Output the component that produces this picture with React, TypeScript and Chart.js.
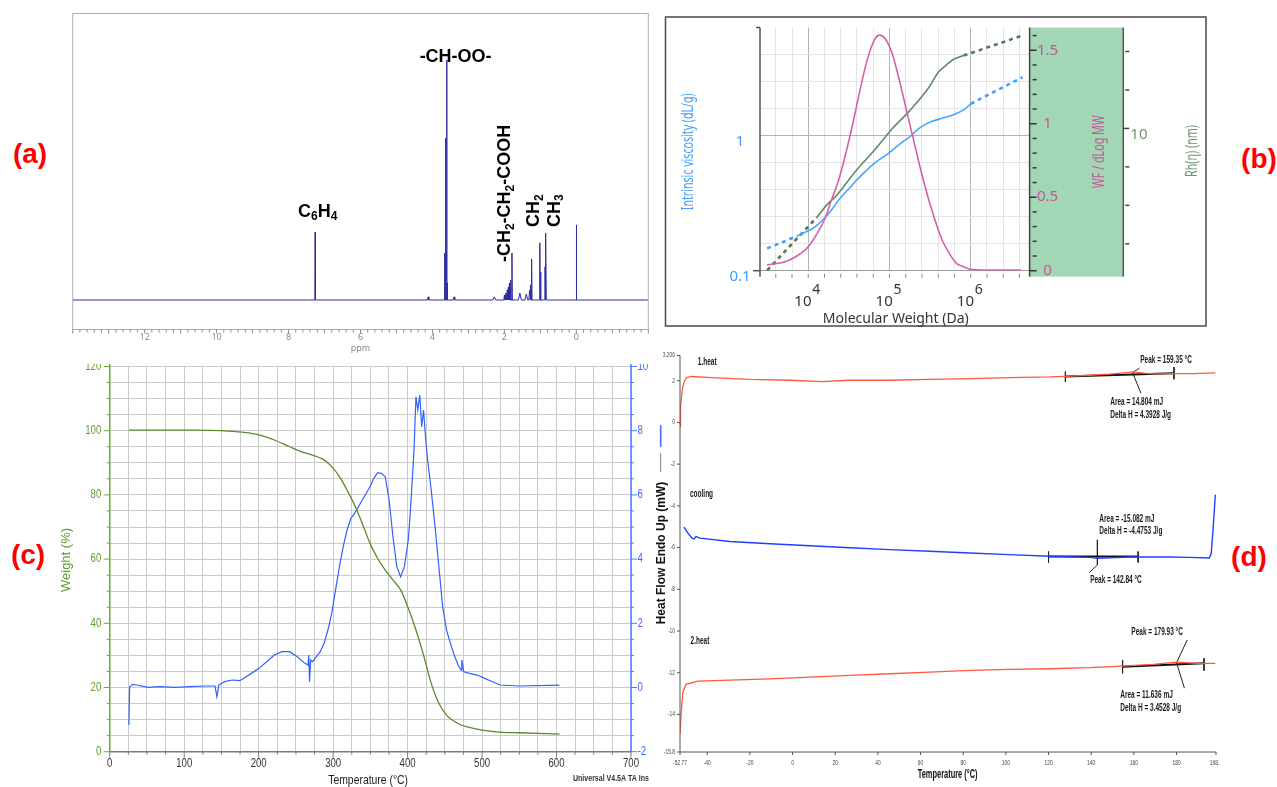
import React, { useEffect, useRef } from "react";
import { Chart, registerables } from "chart.js";

Chart.register(...registerables);

const SANS = '"Liberation Sans", Arial, sans-serif';
const UI = '"Noto Sans", "Open Sans", sans-serif';

/* ---------------- (a) 1H NMR spectrum ---------------- */
const nmrPeakPpm = [7.26, 4.12, 3.66, 3.635, 3.604, 3.585, 3.4, 2.28, 2.0, 1.96, 1.92, 1.89, 1.86, 1.83, 1.79, 1.57, 1.39, 1.3, 1.265, 1.24, 1.015, 0.99, 0.87, 0.845, 0.0];
const nmrPeakIntensity = [28.3, 1.3, 19.6, 67.5, 100, 7.1, 1.3, 1.3, 2.1, 2.9, 4.2, 5.4, 7.1, 8.3, 19.6, 2.9, 2.5, 4.2, 6.3, 17.1, 23.8, 11.7, 13.8, 27.9, 31.3];
const nmrPeakHalfWidth = [0.008, 0.02, 0.006, 0.006, 0.006, 0.006, 0.02, 0.04, 0.015, 0.015, 0.015, 0.015, 0.015, 0.012, 0.008, 0.04, 0.04, 0.02, 0.01, 0.008, 0.008, 0.006, 0.006, 0.008, 0.008];
const nmrAxisLabels = [12, 10, 8, 6, 4, 2, 0];

/* ---------------- (b) GPC triple detection ---------------- */
const wfLogMW = [3.494, 3.714, 3.846, 4.0, 4.11, 4.198, 4.286, 4.374, 4.462, 4.549, 4.637, 4.725, 4.813, 4.879, 4.945, 5.033, 5.121, 5.209, 5.297, 5.385, 5.473, 5.56, 5.648, 5.736, 5.824, 5.912, 6.0, 6.13, 6.615];
const wfValue = [0.039, 0.061, 0.095, 0.163, 0.254, 0.345, 0.481, 0.617, 0.798, 1.002, 1.229, 1.433, 1.569, 1.603, 1.58, 1.478, 1.297, 1.093, 0.889, 0.685, 0.503, 0.345, 0.209, 0.118, 0.05, 0.027, 0.009, 0.005, 0.005];
const ivLogMW = [3.868, 3.934, 4.022, 4.11, 4.198, 4.286, 4.374, 4.505, 4.637, 4.813, 4.989, 5.165, 5.253, 5.341, 5.429, 5.516, 5.648, 5.78, 5.912, 6.0];
const ivLogValue = [-0.743, -0.723, -0.699, -0.662, -0.612, -0.551, -0.477, -0.39, -0.304, -0.205, -0.131, -0.044, -0.007, 0.042, 0.079, 0.104, 0.128, 0.153, 0.19, 0.235];
const ivExtrapLowLogMW = [3.494, 3.868];
const ivExtrapLowValue = [-0.835, -0.743];
const ivExtrapHighLogMW = [6.0, 6.637];
const ivExtrapHighValue = [0.235, 0.432];
const rhLogMW = [4.11, 4.242, 4.33, 4.374, 4.593, 4.813, 5.033, 5.253, 5.473, 5.604, 5.692, 5.78, 5.912];
const rhLogValue = [0.539, 0.609, 0.643, 0.664, 0.782, 0.886, 0.998, 1.094, 1.206, 1.293, 1.327, 1.357, 1.379];
const rhExtrapLowLogMW = [3.494, 4.11];
const rhExtrapLowValue = [0.262, 0.539];
const rhExtrapHighLogMW = [5.912, 6.637];
const rhExtrapHighValue = [1.379, 1.483];
const mwDecades = [4, 5, 6];
const ivLabels = [0.1, 1];
const wfLabels = [0, 0.5, 1, 1.5];

/* ---------------- (c) TGA / DTG ---------------- */
const tgaTemp = [25.7, 118.2, 149.0, 169.6, 190.2, 200.4, 221.0, 241.6, 257.0, 272.4, 287.8, 298.1, 308.4, 318.7, 328.9, 339.2, 349.5, 359.8, 370.0, 380.3, 390.6, 400.9, 411.2, 421.4, 431.7, 442.0, 452.3, 467.7, 488.3, 519.1, 549.9, 603.9];
const tgaWeight = [100.2, 100.2, 100.0, 99.7, 99.2, 98.7, 97.1, 95.0, 93.5, 92.4, 90.9, 88.8, 85.7, 81.5, 76.8, 71.1, 64.9, 60.2, 56.6, 53.5, 50.4, 44.7, 37.9, 30.1, 21.3, 15.1, 11.4, 8.8, 7.3, 6.2, 5.9, 5.5];
const dtgTemp = [25.7, 26.7, 30.8, 36.0, 51.4, 66.8, 87.4, 107.9, 128.5, 141.3, 143.9, 146.5, 154.2, 164.5, 174.7, 179.9, 190.2, 200.4, 210.7, 221.0, 231.3, 241.6, 251.8, 262.1, 266.2, 267.3, 268.3, 269.8, 272.4, 277.5, 282.7, 287.8, 293.0, 298.1, 303.2, 308.4, 313.5, 318.7, 323.8, 328.9, 339.2, 349.5, 354.6, 359.8, 364.9, 370.0, 375.2, 380.3, 385.5, 390.6, 395.7, 400.9, 403.5, 406.0, 408.6, 411.2, 413.7, 416.3, 418.9, 421.4, 424.0, 426.6, 431.7, 436.9, 442.0, 447.1, 452.3, 457.4, 462.6, 467.7, 471.8, 472.8, 475.4, 483.1, 493.4, 503.7, 514.0, 524.2, 549.9, 603.9];
const dtgValue = [-1.169, 0.025, 0.098, 0.077, 0.004, 0.025, 0.004, 0.025, 0.046, 0.046, -0.287, 0.077, 0.181, 0.233, 0.212, 0.285, 0.44, 0.596, 0.804, 1.011, 1.115, 1.115, 0.96, 0.752, 0.7, 1.011, 0.181, 0.856, 0.804, 0.96, 1.115, 1.375, 1.79, 2.309, 3.036, 3.763, 4.386, 4.906, 5.269, 5.425, 5.84, 6.255, 6.515, 6.692, 6.671, 6.567, 5.84, 4.698, 3.763, 3.452, 3.763, 4.594, 5.425, 6.359, 7.398, 9.059, 8.644, 9.111, 8.125, 8.644, 7.813, 7.138, 6.152, 5.009, 3.763, 2.517, 1.79, 1.375, 1.011, 0.7, 0.544, 0.856, 0.492, 0.44, 0.388, 0.285, 0.181, 0.077, 0.046, 0.077];

/* ---------------- (d) DSC ---------------- */
const heat1Temp = [-52.77, -52.67, -52.34, -51.73, -50.8, -49.67, -47.33, -38.0, -20.0, -1.3, 13.7, 26.8, 45.5, 64.3, 83.0, 101.7, 120.4, 127.9, 139.2, 148.5, 154.0, 159.4, 165.0, 169.1, 178.5, 187.9, 198.2];
const heat1Flow = [-0.2, -0.04, 0.76, 1.56, 1.96, 2.15, 2.2, 2.15, 2.06, 2.02, 1.95, 2.02, 2.02, 2.06, 2.1, 2.15, 2.18, 2.21, 2.26, 2.31, 2.36, 2.42, 2.36, 2.33, 2.34, 2.34, 2.37];
const coolTemp = [-50.9, -49.02, -47.15, -46.2, -45.28, -43.4, -29.36, -10.63, 8.09, 26.82, 45.54, 64.27, 83.0, 101.7, 120.4, 139.2, 142.9, 157.9, 176.6, 186.0, 195.4, 196.3, 197.2, 198.2];
const coolFlow = [-5.02, -5.31, -5.55, -5.59, -5.47, -5.55, -5.71, -5.82, -5.91, -6.01, -6.1, -6.18, -6.26, -6.34, -6.42, -6.47, -6.52, -6.45, -6.45, -6.47, -6.5, -6.26, -4.99, -3.47];
const heat2Temp = [-52.77, -52.2, -51.46, -49.96, -44.35, -29.36, -10.63, 8.09, 26.82, 45.54, 64.27, 83.0, 101.7, 120.4, 139.2, 154.2, 169.1, 180.0, 189.7, 198.2];
const heat2Flow = [-14.95, -13.91, -12.96, -12.56, -12.4, -12.35, -12.29, -12.21, -12.13, -12.05, -11.97, -11.89, -11.84, -11.81, -11.76, -11.68, -11.6, -11.49, -11.55, -11.55];
const dscBaselines = [
  [127.9, 2.2, 178.8, 2.36],
  [120.0, -6.43, 162.0, -6.43],
  [154.7, -11.71, 192.9, -11.54],
];
const dscMarkers = [
  [127.9, 2.43, 127.9, 1.95],
  [178.8, 2.65, 178.8, 2.07],
  [159.4, 2.38, 162.6, 2.6],
  [159.4, 2.38, 163.3, 1.4],
  [120.0, -6.19, 120.0, -6.72],
  [162.0, -6.19, 162.0, -6.72],
  [142.9, -5.63, 142.9, -6.83],
  [142.9, -6.83, 139.1, -7.2],
  [154.7, -11.39, 154.7, -12.03],
  [192.9, -11.31, 192.9, -11.9],
  [180.0, -11.52, 185.0, -10.43],
  [180.0, -11.52, 183.7, -12.74],
];
const dscXTicks = [-52.77, -40, -20, 0, 20, 40, 60, 80, 100, 120, 140, 160, 180, 198.5];
const dscYTicks = [3.206, 2, 0, -2, -4, -6, -8, -10, -12, -14, -15.8];
const dscNotes: [string, number, number][] = [
  ["1.heat", -44.4, 2.87],
  ["Peak = 159.35 °C", 163.0, 2.96],
  ["Area = 14.804 mJ", 148.9, 0.98],
  ["Delta H = 4.3928 J/g", 148.9, 0.35],
  ["cooling", -48.1, -3.43],
  ["Area = -15.082 mJ", 143.8, -4.63],
  ["Delta H = -4.4753 J/g", 143.8, -5.24],
  ["Peak = 142.84 °C", 139.5, -7.56],
  ["2.heat", -47.8, -10.47],
  ["Peak = 179.93 °C", 158.8, -10.06],
  ["Area = 11.636 mJ", 153.6, -13.07],
  ["Delta H = 3.4528 J/g", 153.6, -13.68],
];

/* ---------------- helpers ---------------- */
function steps(from: number, to: number, step: number) {
  const out: number[] = [];
  const n = Math.round((to - from) / step);
  for (let i = 0; i <= n; i++) out.push(Math.round((from + i * step) * 1e6) / 1e6);
  return out;
}
const pts = (xs: number[], ys: number[]) => xs.map((v, i) => ({ x: v, y: ys[i] }));
function segPts(segs: number[][]) {
  const out: any[] = [];
  segs.forEach((s) => {
    out.push({ x: s[0], y: s[1] }, { x: s[2], y: s[3] }, { x: s[2], y: null });
  });
  return out;
}
function line(ctx: any, x1: number, y1: number, x2: number, y2: number, color: string, w = 1) {
  ctx.save();
  ctx.strokeStyle = color;
  ctx.lineWidth = w;
  ctx.beginPath();
  ctx.moveTo(x1, y1);
  ctx.lineTo(x2, y2);
  ctx.stroke();
  ctx.restore();
}
function drawText(ctx: any, s: string, x: number, y: number, o: any) {
  ctx.save();
  ctx.translate(x, y);
  if (o.rotate) ctx.rotate(o.rotate);
  if (o.sx) ctx.scale(o.sx, 1);
  ctx.font = o.font;
  ctx.fillStyle = o.color;
  ctx.textAlign = o.align || "center";
  ctx.textBaseline = o.baseline || "middle";
  if (o.maxWidth) ctx.fillText(s, 0, 0, o.maxWidth);
  else ctx.fillText(s, 0, 0);
  ctx.restore();
}
function drawRich(ctx: any, segs: [string, boolean][], x: number, y: number, rot: number) {
  const mainFont = `bold 18px ${SANS}`;
  const subFont = `bold 12px ${SANS}`;
  ctx.save();
  ctx.translate(x, y);
  ctx.rotate(rot);
  ctx.fillStyle = "#000";
  ctx.textBaseline = "middle";
  ctx.textAlign = "left";
  let total = 0;
  const widths = segs.map(([t, sub]) => {
    ctx.font = sub ? subFont : mainFont;
    const w = ctx.measureText(t).width;
    total += w;
    return w;
  });
  let cx = -total / 2;
  segs.forEach(([t, sub], i) => {
    ctx.font = sub ? subFont : mainFont;
    ctx.fillText(t, cx, sub ? 5 : 0);
    cx += widths[i];
  });
  ctx.restore();
}
function padFor(canvas: number[], area: number[]) {
  const [cl, ct, cw, ch] = canvas;
  const [L, T, R, B] = area;
  return { left: L - cl, top: T - ct, right: cl + cw - R, bottom: ct + ch - B };
}
const baseOptions = (padding: any) => ({
  responsive: false,
  animation: false,
  events: [],
  layout: { padding },
  plugins: { legend: { display: false }, tooltip: { enabled: false }, title: { display: false } },
  elements: { point: { radius: 0 }, line: { fill: false, tension: 0 } },
});
const gridScale = (min: number, max: number, ticks: number[], color: any, extra: any = {}) => ({
  type: "linear",
  min,
  max,
  afterBuildTicks: (s: any) => {
    s.ticks = ticks.map((v) => ({ value: v }));
  },
  ticks: { display: false },
  border: { display: false },
  grid: { color, drawTicks: false, lineWidth: 1 },
  ...extra,
});
const hiddenScale = (min: number, max: number, extra: any = {}) => ({ type: "linear", min, max, display: false, ...extra });

/* ---------------- panel geometry ---------------- */
const A_CANVAS = [60, 0, 600, 362];
const A_AREA = [72.7, 13.5, 648.3, 329.5];
const B_CANVAS = [662, 12, 548, 318];
const B_AREA = [760, 27.5, 1029.6, 270.7];
const C_CANVAS = [40, 364, 615, 423];
const C_AREA = [109.75, 366.5, 631, 751.7];
const D_CANVAS = [652, 340, 567, 447];
const D_AREA = [680, 355.5, 1216, 752];

/* ---------------- (a) config ---------------- */
function nmrSpectrum() {
  const order = nmrPeakPpm.map((_, i) => i).sort((a, b) => nmrPeakPpm[b] - nmrPeakPpm[a]);
  const out: any[] = [{ x: 14, y: 0 }];
  order.forEach((i) => {
    const p = nmrPeakPpm[i];
    const w = nmrPeakHalfWidth[i];
    out.push({ x: p + w, y: 0 }, { x: p, y: nmrPeakIntensity[i] }, { x: p - w, y: 0 });
  });
  out.push({ x: -2, y: 0 });
  return out;
}
const nmrLabelDefs: { segs: [string, boolean][]; ppm: number; h: number; rot: number }[] = [
  { segs: [["-CH-OO-", false]], ppm: 3.356, h: 101.25, rot: 0 },
  { segs: [["C", false], ["6", true], ["H", false], ["4", true]], ppm: 7.19, h: 36.7, rot: 0 },
  { segs: [["-CH", false], ["2", true], ["-CH", false], ["2", true], ["-COOH", false]], ppm: 1.972, h: 44.4, rot: -Math.PI / 2 },
  { segs: [["CH", false], ["2", true]], ppm: 1.163, h: 37.25, rot: -Math.PI / 2 },
  { segs: [["CH", false], ["3", true]], ppm: 0.605, h: 37.25, rot: -Math.PI / 2 },
];
const panelAPlugin = {
  id: "panelA",
  afterDraw(chart: any) {
    const { ctx, chartArea: a } = chart;
    const x = chart.scales.x;
    const y = chart.scales.y;
    ctx.save();
    ctx.strokeStyle = "#b0b0b0";
    ctx.lineWidth = 1;
    ctx.strokeRect(a.left, a.top, a.right - a.left, a.bottom - a.top);
    steps(-2, 14, 0.2).forEach((v) => {
      const px = x.getPixelForValue(v);
      const major = Math.abs(v - Math.round(v)) < 1e-6;
      line(ctx, px, a.bottom, px, a.bottom + (major ? 4 : 3), "#8c8c8c", 1);
    });
    nmrAxisLabels.forEach((v) =>
      drawText(ctx, String(v), x.getPixelForValue(v), a.bottom + 8, { font: `9px ${UI}`, color: "#8a8a8a" })
    );
    drawText(ctx, "ppm", x.getPixelForValue(6), a.bottom + 18.5, { font: `9px ${UI}`, color: "#8a8a8a" });
    nmrLabelDefs.forEach((l) => drawRich(ctx, l.segs, x.getPixelForValue(l.ppm), y.getPixelForValue(l.h), l.rot));
    ctx.restore();
  },
};
function panelAConfig() {
  return {
    type: "line",
    data: { datasets: [{ data: nmrSpectrum(), borderColor: "#2c2ca0", borderWidth: 1 }] },
    options: {
      ...baseOptions(padFor(A_CANVAS, A_AREA)),
      scales: {
        x: hiddenScale(-2, 14, { reverse: true }),
        y: hiddenScale(-12.29, 119.375),
      },
    },
    plugins: [panelAPlugin],
  };
}

/* ---------------- (b) config ---------------- */
const RH_AXIS_GAP = 93.7;
const panelBPlugin = {
  id: "panelB",
  beforeDraw(chart: any) {
    const { ctx, chartArea: a } = chart;
    ctx.save();
    ctx.fillStyle = "#a3d6b4";
    ctx.fillRect(a.right, a.top, RH_AXIS_GAP, a.bottom - a.top + 6);
    ctx.strokeStyle = "#4a4a4a";
    ctx.lineWidth = 1.5;
    ctx.strokeRect(665.5 - 662, 17 - 12, 1206 - 665.5, 326 - 17);
    ctx.restore();
  },
  afterDraw(chart: any) {
    const { ctx, chartArea: a, scales } = chart;
    const xs = scales.x, yIV = scales.yIV, yWF = scales.yWF, yRh = scales.yRh;
    const rhX = a.right + RH_AXIS_GAP;
    line(ctx, a.left, a.top, a.left, a.bottom + 6, "#555", 1.5);
    line(ctx, a.right, a.top, a.right, a.bottom + 6, "#444", 1.5);
    line(ctx, rhX, a.top, rhX, a.bottom + 6, "#555", 1.5);
    line(ctx, a.left - 7, a.bottom, a.left, a.bottom, "#555", 1.5);
    line(ctx, a.left - 4, a.top, a.left, a.top, "#555", 1.5);
    steps(3.6, 6.6, 0.2).forEach((v) => {
      const px = xs.getPixelForValue(v);
      line(ctx, px, a.bottom + 3, px, a.bottom + 7, "#888", 1);
    });
    mwDecades.forEach((d) => {
      const px = xs.getPixelForValue(d);
      drawText(ctx, "10", px - 5.3, a.bottom + 31, { font: `15px ${UI}`, color: "#333" });
      drawText(ctx, String(d), px + 8, a.bottom + 19.3, { font: `14px ${UI}`, color: "#333" });
    });
    drawText(ctx, "Molecular Weight (Da)", (a.left + a.right) / 2 + 1, a.bottom + 48.3, {
      font: `15px ${UI}`, color: "#333", maxWidth: 146,
    });
    ivLabels.forEach((v) =>
      drawText(ctx, String(v), a.left - 20, yIV.getPixelForValue(Math.log10(v)) + 6, { font: `15px ${UI}`, color: "#3d9dff" })
    );
    drawText(ctx, "Intrinsic viscosity (dL/g)", a.left - 71.4, 139.7, {
      font: `17px ${UI}`, color: "#3d9dff", rotate: -Math.PI / 2, maxWidth: 117,
    });
    steps(0, 1.6, 0.1).forEach((v) => {
      const py = yWF.getPixelForValue(v);
      const major = Math.abs(v * 2 - Math.round(v * 2)) < 1e-6;
      line(ctx, a.right + (major ? 0 : 3), py, a.right + 7, py, "#333", 1.5);
    });
    wfLabels.forEach((v) =>
      drawText(ctx, String(v), a.right + 18, yWF.getPixelForValue(v), { font: `15px ${UI}`, color: "#c4559c" })
    );
    drawText(ctx, "WF / dLog MW", a.right + 69.7, 139.7, {
      font: `17px ${UI}`, color: "#c4559c", rotate: -Math.PI / 2, maxWidth: 73,
    });
    steps(0.4, 1.4, 0.2).forEach((v) => {
      const py = yRh.getPixelForValue(v);
      const major = Math.abs(v - 1) < 1e-6;
      line(ctx, rhX + (major ? 0 : 2), py, rhX + 6, py, "#444", 1.5);
    });
    drawText(ctx, "10", rhX + 7, yRh.getPixelForValue(1) + 6.5, { font: `15px ${UI}`, color: "#6d9270", align: "left" });
    drawText(ctx, "Rh(η) (nm)", rhX + 68.7, 139, {
      font: `17px ${UI}`, color: "#6d9270", rotate: -Math.PI / 2, maxWidth: 52,
    });
  },
};
function panelBConfig() {
  return {
    type: "line",
    data: {
      datasets: [
        { data: pts(wfLogMW, wfValue), yAxisID: "yWF", borderColor: "#d55fa8", borderWidth: 1.6, cubicInterpolationMode: "monotone" },
        { data: pts(ivLogMW, ivLogValue), yAxisID: "yIV", borderColor: "#45a6ff", borderWidth: 1.6, cubicInterpolationMode: "monotone" },
        { data: pts(ivExtrapLowLogMW, ivExtrapLowValue), yAxisID: "yIV", borderColor: "#3f9fff", borderWidth: 2.6, borderDash: [4, 4] },
        { data: pts(ivExtrapHighLogMW, ivExtrapHighValue), yAxisID: "yIV", borderColor: "#3f9fff", borderWidth: 2.6, borderDash: [4, 4] },
        { data: pts(rhLogMW, rhLogValue), yAxisID: "yRh", borderColor: "#62896a", borderWidth: 1.6, cubicInterpolationMode: "monotone" },
        { data: pts(rhExtrapLowLogMW, rhExtrapLowValue), yAxisID: "yRh", borderColor: "#527a58", borderWidth: 2.6, borderDash: [4, 4] },
        { data: pts(rhExtrapHighLogMW, rhExtrapHighValue), yAxisID: "yRh", borderColor: "#527a58", borderWidth: 2.6, borderDash: [4, 4] },
      ],
    },
    options: {
      ...baseOptions(padFor(B_CANVAS, B_AREA)),
      scales: {
        x: gridScale(3.406, 6.725, steps(3.6, 6.6, 0.2), (c: any) =>
          c.tick && Math.abs(c.tick.value - Math.round(c.tick.value)) < 1e-6 ? "#b4b4b4" : "#e4e4e4"
        ),
        yIV: gridScale(-1, 0.8, steps(-1, 0.6, 0.2), (c: any) =>
          c.tick && Math.abs(c.tick.value + 1) < 1e-6 ? "#9a9a9a" : c.tick && Math.abs(c.tick.value) < 1e-6 ? "#b4b4b4" : "#e4e4e4",
          { position: "left" }
        ),
        yWF: hiddenScale(0, 1.655, { position: "right" }),
        yRh: hiddenScale(0.26, 1.525, { position: "right" }),
      },
    },
    plugins: [panelBPlugin],
  };
}

/* ---------------- (c) config ---------------- */
const C_GREEN = "#5e9e2e";
const C_BLUE = "#3a66ff";
const panelCPlugin = {
  id: "panelC",
  afterDraw(chart: any) {
    const { ctx, chartArea: a, scales } = chart;
    const x = scales.x, y = scales.y, y2 = scales.y2;
    line(ctx, a.left, a.top - 3, a.left, a.bottom, "#6aaa3a", 1.5);
    line(ctx, a.right, a.top - 3, a.right, a.bottom, "#4d7dff", 1.5);
    line(ctx, a.left, a.bottom, a.right, a.bottom, "#7a7a7a", 1.5);
    steps(0, 120, 5).forEach((v) => {
      const py = y.getPixelForValue(v);
      const major = v % 20 === 0;
      line(ctx, a.left - (major ? 6 : 3), py, a.left, py, "#6aaa3a", 1);
      if (major) drawText(ctx, String(v), a.left - 8.5, py, { font: `12px ${SANS}`, color: C_GREEN, align: "right", sx: 0.8 });
    });
    steps(-2, 10, 0.5).forEach((v) => {
      const py = y2.getPixelForValue(v);
      const major = Math.abs(v / 2 - Math.round(v / 2)) < 1e-6;
      line(ctx, a.right, py, a.right + (major ? 6 : 3), py, "#4d7dff", 1);
      if (major) drawText(ctx, String(v), a.right + 6.5, py, { font: `12px ${SANS}`, color: C_BLUE, align: "left", sx: 0.8 });
    });
    steps(0, 700, 25).forEach((v) => {
      const px = x.getPixelForValue(v);
      const major = v % 100 === 0;
      line(ctx, px, a.bottom, px, a.bottom + (major ? 6 : 3), "#7a7a7a", 1);
      if (major) drawText(ctx, String(v), px, a.bottom + 11.6, { font: `12px ${SANS}`, color: "#333", sx: 0.8 });
    });
    drawText(ctx, "Temperature (°C)", x.getPixelForValue(347), a.bottom + 29, { font: `13px ${SANS}`, color: "#222", sx: 0.8 });
    drawText(ctx, "Weight (%)", 66.9 - 40, 560 - 364, { font: `13px ${SANS}`, color: C_GREEN, rotate: -Math.PI / 2 });
    drawText(ctx, "Universal V4.5A TA Ins", 573 - 40, 779 - 364, {
      font: `bold 9px ${SANS}`, color: "#333", align: "left", maxWidth: 76,
    });
  },
};
function panelCConfig() {
  return {
    type: "line",
    data: {
      datasets: [
        { data: pts(tgaTemp, tgaWeight), yAxisID: "y", borderColor: "#5b8a2b", borderWidth: 1.3, cubicInterpolationMode: "monotone" },
        { data: pts(dtgTemp, dtgValue), yAxisID: "y2", borderColor: "#2f62ff", borderWidth: 1.2 },
      ],
    },
    options: {
      ...baseOptions(padFor(C_CANVAS, C_AREA)),
      scales: {
        x: gridScale(0, 700, steps(0, 700, 25), "#cacaca"),
        y: gridScale(0, 120, steps(0, 120, 5), "#cacaca", { position: "left" }),
        y2: hiddenScale(-2, 10, { position: "right" }),
      },
    },
    plugins: [panelCPlugin],
  };
}

/* ---------------- (d) config ---------------- */
const panelDPlugin = {
  id: "panelD",
  afterDraw(chart: any) {
    const { ctx, chartArea: a, scales } = chart;
    const x = scales.x, y = scales.y;
    line(ctx, a.left, a.top, a.left, a.bottom, "#555", 1);
    line(ctx, a.left, a.bottom, a.right, a.bottom, "#555", 1);
    dscYTicks.forEach((v) => {
      const py = y.getPixelForValue(v);
      line(ctx, a.left - 3, py, a.left, py, "#555", 1);
      drawText(ctx, String(v), a.left - 5, py, { font: `7px ${SANS}`, color: "#444", align: "right", sx: 0.7 });
    });
    dscXTicks.forEach((v) => {
      const px = x.getPixelForValue(v);
      line(ctx, px, a.bottom, px, a.bottom + 3, "#555", 1);
      drawText(ctx, String(v), px, a.bottom + 10.7, { font: `7px ${SANS}`, color: "#444", sx: 0.7 });
    });
    drawText(ctx, "Temperature (°C)", x.getPixelForValue(72.7), a.bottom + 23, {
      font: `bold 12px ${SANS}`, color: "#111", sx: 0.62,
    });
    const tx = 661.2 - 652;
    drawText(ctx, "Heat Flow Endo Up (mW)", tx, 553 - 340, {
      font: `bold 12px ${SANS}`, color: "#111", rotate: -Math.PI / 2,
    });
    line(ctx, tx - 0.5, 425 - 340, tx - 0.5, 447 - 340, "#4a6aff", 1.6);
    line(ctx, tx - 0.5, 453 - 340, tx - 0.5, 472 - 340, "#888", 1);
    dscNotes.forEach(([t, vx, vy]) =>
      drawText(ctx, t, x.getPixelForValue(vx), y.getPixelForValue(vy), {
        font: `bold 10px ${SANS}`, color: "#1a1a1a", align: "left", sx: 0.65,
      })
    );
  },
};
function panelDConfig() {
  return {
    type: "line",
    data: {
      datasets: [
        { data: pts(heat1Temp, heat1Flow), borderColor: "#ff5a3d", borderWidth: 1.3 },
        { data: pts(coolTemp, coolFlow), borderColor: "#1e40ff", borderWidth: 1.4 },
        { data: pts(heat2Temp, heat2Flow), borderColor: "#ff5a3d", borderWidth: 1.3 },
        { data: segPts(dscBaselines), borderColor: "#111", borderWidth: 2, spanGaps: false },
        { data: segPts(dscMarkers), borderColor: "#222", borderWidth: 1, spanGaps: false },
      ],
    },
    options: {
      ...baseOptions(padFor(D_CANVAS, D_AREA)),
      scales: {
        x: hiddenScale(-52.77, 198.5),
        y: hiddenScale(-15.8, 3.206),
      },
    },
    plugins: [panelDPlugin],
  };
}

/* ---------------- components ---------------- */
function ChartPanel({ box, makeConfig }: { box: number[]; makeConfig: () => any }) {
  const ref = useRef<HTMLCanvasElement | null>(null);
  useEffect(() => {
    if (!ref.current) return;
    const chart = new Chart(ref.current, makeConfig());
    return () => chart.destroy();
  }, []);
  const [left, top, width, height] = box;
  return (
    <canvas
      ref={ref}
      width={width}
      height={height}
      style={{ position: "absolute", left, top, width, height, display: "block" }}
    />
  );
}

const panelTags = [
  { text: "(a)", x: 30, y: 154 },
  { text: "(b)", x: 1259, y: 159 },
  { text: "(c)", x: 28, y: 555 },
  { text: "(d)", x: 1249, y: 557 },
];

export default function App() {
  return (
    <div
      style={{
        position: "absolute",
        left: 0,
        top: 0,
        width: 1277,
        height: 787,
        overflow: "hidden",
        background: "#fff",
      }}
    >
      <ChartPanel box={A_CANVAS} makeConfig={panelAConfig} />
      <ChartPanel box={B_CANVAS} makeConfig={panelBConfig} />
      <ChartPanel box={C_CANVAS} makeConfig={panelCConfig} />
      <ChartPanel box={D_CANVAS} makeConfig={panelDConfig} />
      {panelTags.map((t) => (
        <div
          key={t.text}
          style={{
            position: "absolute",
            left: t.x,
            top: t.y,
            transform: "translate(-50%, -50%)",
            font: `bold 28px ${SANS}`,
            color: "#ff0000",
            lineHeight: 1,
            whiteSpace: "nowrap",
          }}
        >
          {t.text}
        </div>
      ))}
    </div>
  );
}
